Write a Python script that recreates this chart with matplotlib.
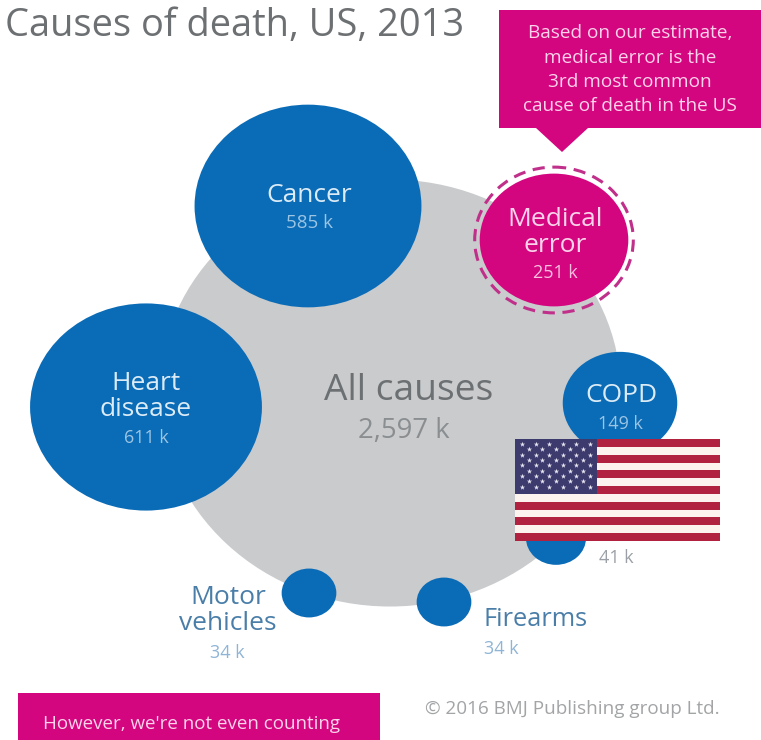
import matplotlib
matplotlib.use("Agg")
import matplotlib.pyplot as plt
from matplotlib.patches import Ellipse, Rectangle, Polygon
import numpy as np

# data
causes = ["All causes", "Cancer", "Medical error", "Heart disease", "COPD", "Suicide", "Motor vehicles", "Firearms"]
deaths_k = [2597, 585, 251, 611, 149, 41, 34, 34]
value_labels = ["2,597 k", "585 k", "251 k", "611 k", "149 k", "41 k", "34 k", "34 k"]

# layout and style, in image pixels
cx = [390, 308, 554, 146, 620, 556, 309, 444]
cy = [393, 206, 240, 407, 403, 538, 593, 602]
RX_ALL, RX, RY = 4.53, 4.69, 4.19
BLUE, MAGENTA, GREY = "#0a6bb6", "#d4067f", "#c9cbcd"
plt.rcParams["font.family"] = ["Open Sans", "DejaVu Sans"]

fig = plt.figure(figsize=(7.61, 7.40), dpi=100)
ax = fig.add_axes([0, 0, 1, 1])
ax.set_xlim(0, 761); ax.set_ylim(740, 0); ax.axis("off")

colors = [GREY, BLUE, MAGENTA, BLUE, BLUE, BLUE, BLUE, BLUE]
for i, v in enumerate(deaths_k):
    w, h = 2*(RX if i else RX_ALL)*np.sqrt(v), 2*RY*np.sqrt(v)
    ax.add_patch(Ellipse((cx[i], cy[i]), w, h, fc=colors[i], ec="none", zorder=2 if i else 1))
    if causes[i] == "Medical error":
        ax.add_patch(Ellipse((cx[i], cy[i]), w+10, h+13, fc="none", ec="#c0308a", lw=2.2,
                             ls=(0, (4, 2.5)), zorder=2))

TXT = "#dcecf7"
def label(x, y, s, size, color, **kw):
    ax.text(x, y, s, fontsize=size, color=color, ha=kw.pop("ha", "center"), va="center", zorder=5, **kw)

label(5, 26, "Causes of death, US, 2013", 27.4, "#6d7072", ha="left")
label(409, 391, causes[0], 26.7, "#6d7072")
label(404, 431, value_labels[0], 19.8, "#8b8e90")
label(309, 195, causes[1], 19, TXT)
label(309, 223, value_labels[1], 13.5, "#9cc5e4")
label(555, 219, "Medical", 19, "#fbd3ea")
label(555, 246, "error", 19, "#fbd3ea")
label(555, 273, value_labels[2], 13, "#f8c0df")
label(146, 383, "Heart", 19, TXT)
label(146, 410, "disease", 19, TXT)
label(146, 438, value_labels[3], 13, "#9cc5e4")
label(621, 396, causes[4], 19, TXT)
label(620, 424, value_labels[4], 13, "#9cc5e4")
label(616, 558, value_labels[5], 13, "#9aa0a6")
label(228, 597, "Motor", 19, "#4a7ea8")
label(228, 624, "vehicles", 19, "#4a7ea8")
label(227, 653, value_labels[6], 13, "#8fb4d6")
label(484, 620, causes[7], 18.3, "#4a7ea8", ha="left")
label(484, 649, value_labels[7], 13, "#8fb4d6", ha="left")

# callout
ax.add_patch(Rectangle((499, 10), 262, 118, fc=MAGENTA, ec="none", zorder=3))
ax.add_patch(Polygon([(536, 128), (588, 128), (562, 152)], fc=MAGENTA, ec="none", zorder=3))
for y, s in zip([33, 58, 82, 106], ["Based on our estimate,", "medical error is the",
                                     "3rd most common", "cause of death in the US"]):
    label(630, y, s, 13.7, "#fbd3ea")

# lower box and credit
ax.add_patch(Rectangle((18, 693), 362, 47, fc=MAGENTA, ec="none", zorder=3))
label(43, 724, "However, we're not even counting", 13.5, "#fbd3ea", ha="left")
label(425, 709, "\u00a9 2016 BMJ Publishing group Ltd.", 13.6, "#a2a4a6", ha="left")

# US flag overlay
fx0, fx1, fy0, fy1 = 515, 720, 439, 541
sh = (fy1 - fy0) / 13
for k in range(13):
    ax.add_patch(Rectangle((fx0, fy0 + k*sh), fx1-fx0, sh, fc="#b0223f" if k % 2 == 0 else "#fdf3ee",
                           ec="none", zorder=6))
ax.add_patch(Rectangle((fx0, fy0), 82, 7*sh, fc="#3d3b6e", ec="none", zorder=7))
sx, sy = [], []
for r in range(9):
    n = 6 if r % 2 == 0 else 5
    for c in range(n):
        sx.append(fx0 + 7 + c*13.6 + (0 if r % 2 == 0 else 6.8))
        sy.append(fy0 + 5 + r*5.35)
ax.scatter(sx, sy, s=16, marker="*", c="#e6e4f0", linewidths=0, zorder=8)

fig.savefig("out.png", dpi=100)
